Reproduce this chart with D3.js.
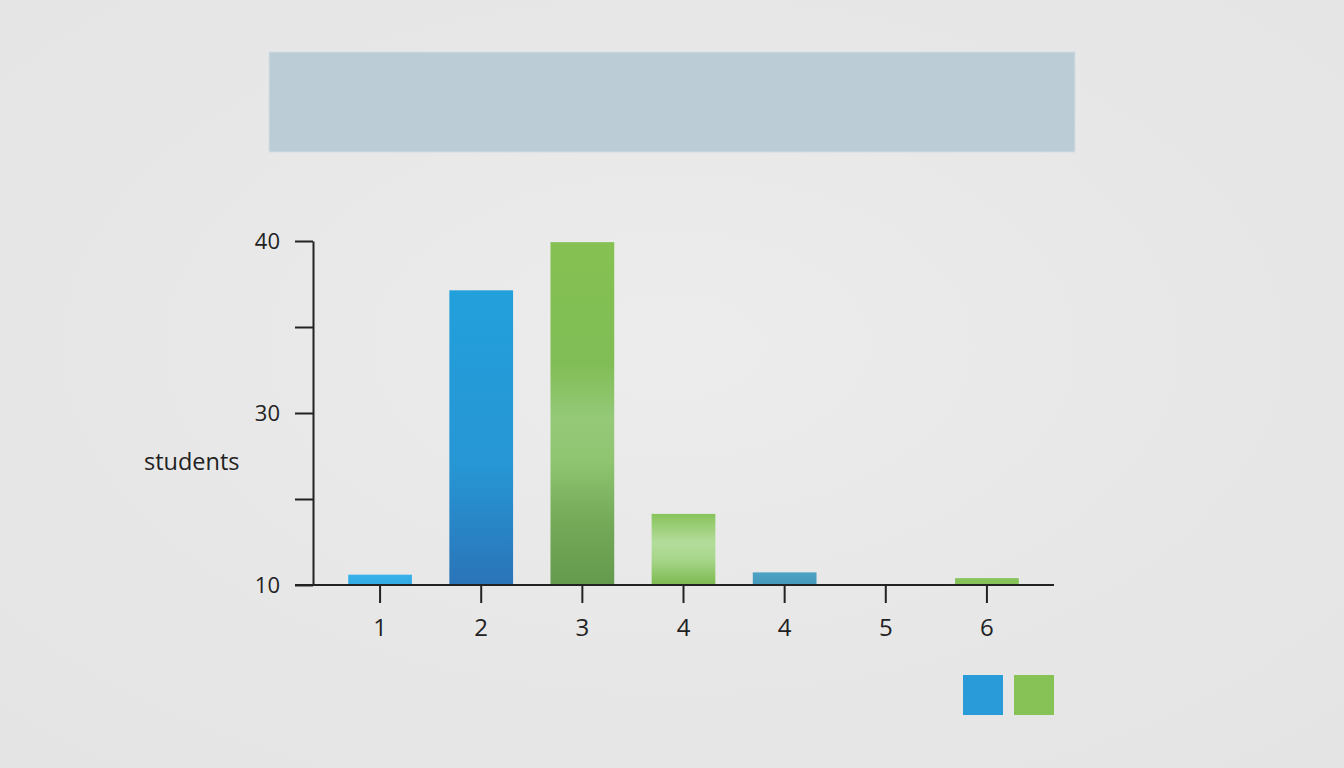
<!DOCTYPE html>
<html>
<head>
<meta charset="utf-8">
<script src="https://cdn.jsdelivr.net/npm/d3@7"></script>
<style>
  html, body { margin: 0; padding: 0; background: #e9e9e9; }
  svg { display: block; }
  .tick text { font-family: "Open Sans", sans-serif; fill: #222; }
</style>
</head>
<body>
<div id="chart"></div>
<script>
// data
const categories = ["1", "2", "3", "4", "4 ", "5", "6"];
const values = [10.9, 35.7, 39.9, 16.2, 11.1, 10, 10.6];
const yTickValues = [10, 17.5, 25, 32.5, 40];
const yTickLabels = ["10", "", "30", "", "40"];
const yLabel = "students";

// vertical gradient stops per bar (top -> bottom)
const barFills = [
  [[0, "#38b2ea"], [1, "#31a9e3"]],
  [[0, "#22a0dc"], [0.6, "#2796d4"], [1, "#2a74b8"]],
  [[0, "#85c152"], [0.35, "#80bd55"], [0.52, "#95c979"], [0.64, "#8fc470"], [0.82, "#73a957"], [1, "#649a4c"]],
  [[0, "#88c45c"], [0.4, "#b3dc9a"], [0.62, "#a9d78d"], [1, "#7cba50"]],
  [[0, "#4aa2c4"], [1, "#4699bb"]],
  [[0, "#88c45c"], [1, "#88c45c"]],
  [[0, "#88c45c"], [1, "#84c157"]]
];
const legendColors = ["#2a9bd9", "#87c257"];

const W = 1344, H = 768;

const svg = d3.select('#chart')
  .append('svg')
  .attr('width', W)
  .attr('height', H);

const defs = svg.append('defs');

const bg = defs.append('radialGradient')
  .attr('id', 'bg')
  .attr('cx', '50%').attr('cy', '45%').attr('r', '70%');
bg.append('stop').attr('offset', '0%').attr('stop-color', '#ececec');
bg.append('stop').attr('offset', '100%').attr('stop-color', '#e4e4e4');

svg.append('rect')
  .attr('width', W)
  .attr('height', H)
  .attr('fill', 'url(#bg)');

// title placeholder box
svg.append('rect')
  .attr('x', 269)
  .attr('y', 52)
  .attr('width', 806)
  .attr('height', 100)
  .attr('fill', '#bbccd7')
  .attr('stroke', '#d2dde4')
  .attr('stroke-width', 1);

// scales
const axisLeftX = 313;
const axisRightX = 1054;

const x = d3.scaleBand()
  .domain(categories)
  .range([329.5, 1037.5])
  .paddingInner(0.37)
  .paddingOuter(0.185);

const y = d3.scaleLinear()
  .domain([10, 40])
  .range([585, 241]);

// bar gradients
barFills.forEach((stops, i) => {
  const g = defs.append('linearGradient')
    .attr('id', `bar${i}`)
    .attr('x1', 0).attr('y1', 0)
    .attr('x2', 0).attr('y2', 1);
  stops.forEach(s => {
    g.append('stop').attr('offset', s[0]).attr('stop-color', s[1]);
  });
});

// bars
svg.append('g')
  .selectAll('rect')
  .data(values)
  .join('rect')
  .attr('x', (d, i) => x(categories[i]))
  .attr('y', d => y(d))
  .attr('width', x.bandwidth())
  .attr('height', d => y(10) - y(d))
  .attr('fill', (d, i) => `url(#bar${i})`);

// y axis
const yAxis = d3.axisLeft(y)
  .tickValues(yTickValues)
  .tickFormat((d, i) => yTickLabels[i])
  .tickSize(18)
  .tickPadding(15)
  .tickSizeOuter(0);

const gy = svg.append('g')
  .attr('transform', `translate(${axisLeftX},0)`)
  .call(yAxis);
gy.select('.domain').attr('stroke', '#222').attr('stroke-width', 2);
gy.selectAll('.tick line').attr('stroke', '#222').attr('stroke-width', 2);
gy.selectAll('.tick text').attr('font-size', 22).attr('dy', '0.35em');

// x axis
const xAxis = d3.axisBottom(x)
  .tickSize(18)
  .tickPadding(16)
  .tickSizeOuter(0);

const gx = svg.append('g')
  .attr('transform', `translate(0,${y(10)})`)
  .call(xAxis);
gx.select('.domain').remove();
gx.append('line')
  .attr('x1', axisLeftX - 18)
  .attr('x2', axisRightX)
  .attr('stroke', '#222')
  .attr('stroke-width', 2);
gx.selectAll('.tick line').attr('stroke', '#222').attr('stroke-width', 2);
gx.selectAll('.tick text').attr('font-size', 24);

// y label
svg.append('text')
  .attr('x', 144)
  .attr('y', 470)
  .attr('font-family', '"Open Sans", sans-serif')
  .attr('font-size', 23.5)
  .attr('fill', '#222')
  .text(yLabel);

// legend swatches
svg.append('g')
  .selectAll('rect')
  .data(legendColors)
  .join('rect')
  .attr('x', (d, i) => 963 + i * 51)
  .attr('y', 675)
  .attr('width', 40)
  .attr('height', 40)
  .attr('fill', d => d);
</script>
</body>
</html>
